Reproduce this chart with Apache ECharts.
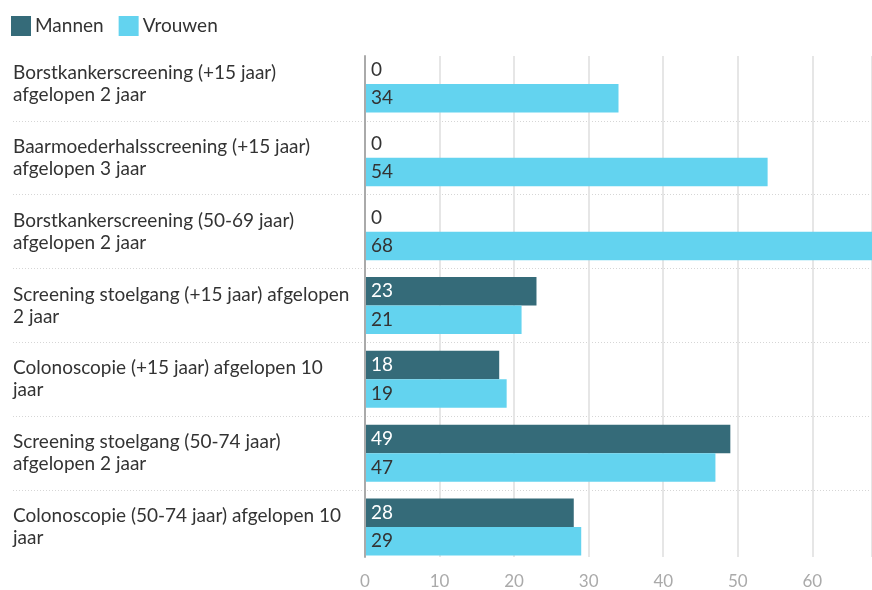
<!DOCTYPE html>
<html>
<head>
<meta charset="utf-8">
<script src="https://cdn.jsdelivr.net/npm/echarts@6/dist/echarts.min.js"></script>
<style>
  html, body { margin: 0; padding: 0; background: #fff; }
  #chart { width: 872px; height: 590px; }
</style>
</head>
<body>
<div id="chart"></div>
<script>
// Screening participation (%) by type, men vs women
const categories = [
  'Borstkankerscreening (+15 jaar)\nafgelopen 2 jaar',
  'Baarmoederhalsscreening (+15 jaar)\nafgelopen 3 jaar',
  'Borstkankerscreening (50-69 jaar)\nafgelopen 2 jaar',
  'Screening stoelgang (+15 jaar) afgelopen\n2 jaar',
  'Colonoscopie (+15 jaar) afgelopen 10\njaar',
  'Screening stoelgang (50-74 jaar)\nafgelopen 2 jaar',
  'Colonoscopie (50-74 jaar) afgelopen 10\njaar'
];
const mannen = [0, 0, 0, 23, 18, 49, 28];
const vrouwen = [34, 54, 68, 21, 19, 47, 29];
const seriesNames = ['Mannen', 'Vrouwen'];

const FONT = 'Lato, "Open Sans", sans-serif';
const DARK = '#356b79';
const LIGHT = '#63d3ef';
const AX_MAX = 68;

// value labels: white on the dark bars, dark text on light bars / empty bars
function withLabels(values, onBarColor) {
  return values.map(v => ({
    value: v,
    label: { color: v === 0 ? '#333333' : onBarColor }
  }));
}

const chart = echarts.init(document.getElementById('chart'), null, { renderer: 'canvas' });

const option = {
  animation: false,
  backgroundColor: '#ffffff',
  textStyle: { fontFamily: FONT },
  legend: {
    left: 6,
    top: 11,
    icon: 'rect',
    itemWidth: 20,
    itemHeight: 20,
    itemGap: 15,
    textStyle: { fontFamily: FONT, fontSize: 19, color: '#333333', padding: [0, 0, 0, -1] },
    data: seriesNames
  },
  grid: [
    // bars + category labels
    { left: 365, width: 510, top: 47, height: 517, containLabel: false },
    // value axis: ticks, grid lines, base line
    { left: 365, width: 510, top: 56, bottom: 33, containLabel: false },
    // dotted separators between categories
    { left: 13, right: 0, top: 47, height: 517, containLabel: false }
  ],
  xAxis: [
    { gridIndex: 0, type: 'value', min: 0, max: AX_MAX, show: false },
    {
      gridIndex: 1, type: 'value', min: 0, max: AX_MAX, interval: 10,
      axisLine: { show: false },
      axisTick: { show: false },
      axisLabel: {
        color: '#aaaaaa', fontSize: 17, fontFamily: FONT, margin: 16,
        showMaxLabel: false
      },
      splitLine: { show: true, lineStyle: { color: '#e6e6e6', width: 2 } },
      z: 0
    },
    { gridIndex: 2, type: 'value', min: 0, max: 1, show: false }
  ],
  yAxis: [
    {
      gridIndex: 0, type: 'category', data: categories, inverse: true,
      axisLine: { show: false },
      axisTick: { show: false },
      splitLine: { show: false },
      axisLabel: {
        align: 'left', margin: 352, color: '#333333',
        fontSize: 19, lineHeight: 22, fontFamily: FONT
      }
    },
    {
      gridIndex: 1, type: 'category', data: categories, inverse: true,
      axisLine: { show: true, lineStyle: { color: '#aaaaaa', width: 2 } },
      axisTick: { show: false },
      axisLabel: { show: false },
      splitLine: { show: false },
      z: 5
    },
    {
      gridIndex: 2, type: 'category', data: categories, inverse: true,
      axisLine: { show: false },
      axisTick: { show: false },
      axisLabel: { show: false },
      splitLine: {
        show: true, interval: 0, showMinLine: false, showMaxLine: false,
        lineStyle: { color: '#d6d6d6', type: [1, 2], width: 1 }
      },
      z: 0
    }
  ],
  series: [
    {
      name: seriesNames[0], type: 'bar', xAxisIndex: 0, yAxisIndex: 0,
      data: withLabels(mannen, '#ffffff'),
      itemStyle: { color: DARK },
      barWidth: 28.5, barGap: '0%',
      label: {
        show: true, position: 'insideLeft', distance: 6,
        fontSize: 19, fontFamily: FONT
      },
      z: 2
    },
    {
      name: seriesNames[1], type: 'bar', xAxisIndex: 0, yAxisIndex: 0,
      data: withLabels(vrouwen, '#333333'),
      itemStyle: { color: LIGHT },
      barWidth: 28.5, barGap: '0%',
      label: {
        show: true, position: 'insideLeft', distance: 6,
        fontSize: 19, fontFamily: FONT
      },
      z: 2
    }
  ]
};

chart.setOption(option);
</script>
</body>
</html>
